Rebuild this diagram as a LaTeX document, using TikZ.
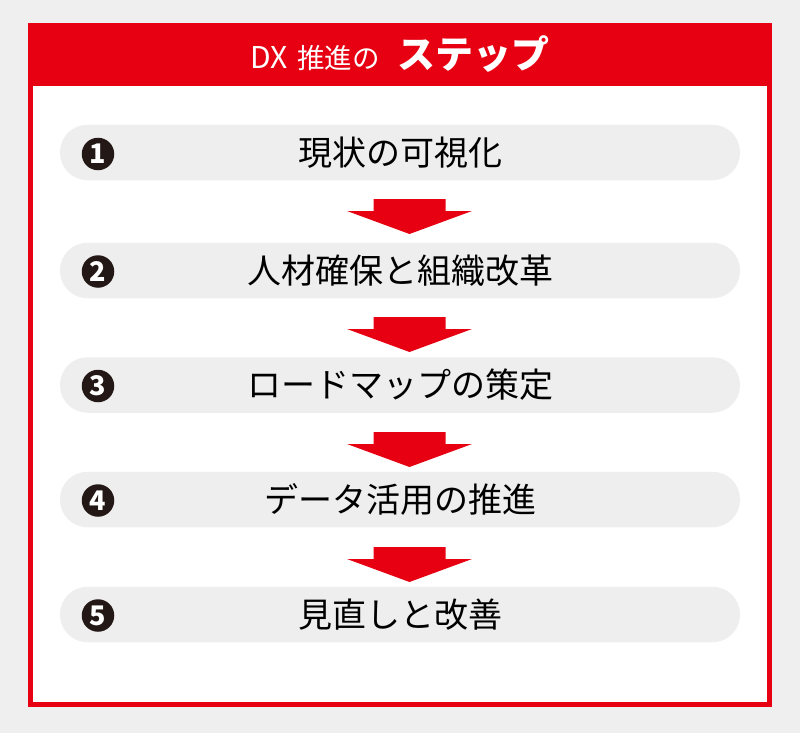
\documentclass[tikz,border=0pt]{standalone}
\usepackage{fontspec}
\setmainfont{Noto Sans CJK JP}
\definecolor{dxred}{HTML}{E60012}
\definecolor{bggray}{HTML}{EFEFEF}
\definecolor{pillgray}{HTML}{EEEEEE}
\definecolor{numblack}{HTML}{231815}
\tikzset{
  pill/.style={fill=pillgray, rounded corners=27.5pt, minimum width=680pt, minimum height=55.5pt, inner sep=0pt, font=\fontsize{34}{34}\selectfont, text=black},
  numdot/.style={circle, fill=numblack, minimum size=32.5pt, inner sep=0pt, text=white, font=\fontsize{27}{27}\selectfont\bfseries},
  stepArrow/.style={fill=dxred}
}
\begin{document}
\begin{tikzpicture}[x=1pt,y=-1pt]
\useasboundingbox (0,0) rectangle (800,733);
\fill[bggray] (0,0) rectangle (800,733);
% frame
\fill[dxred] (28,23) rectangle (772,706.5);
\fill[white] (33,86.5) rectangle (767,702);
% title
\node[anchor=base, text=white, inner sep=0pt] (title) at (400,68.5)
  {{\fontsize{30}{30}\selectfont DX}\hspace{10pt}{\fontsize{27.5}{27.5}\selectfont 推進の}\hspace{18pt}{\fontsize{38}{38}\selectfont\bfseries ステップ}};
% steps
\node[pill] (s1) at (400,152.5) {現状の可視化};
\node[pill] (s2) at (400,270.5) {人材確保と組織改革};
\node[pill] (s3) at (400,385) {ロードマップの策定};
\node[pill] (s4) at (400,499.5) {データ活用の推進};
\node[pill] (s5) at (400,614.5) {見直しと改善};
\node[numdot] (n1) at (98,154) {1};
\node[numdot] (n2) at (98,271.5) {2};
\node[numdot] (n3) at (98,386) {3};
\node[numdot] (n4) at (98,500.5) {4};
\node[numdot] (n5) at (98,615.5) {5};
% arrows
\foreach \t/\p in {199/234, 317/352, 432/467, 547/582}{
  \fill[stepArrow] (373.5,\t) -- (445.5,\t) -- (445.5,\t+12) -- (472,\t+12) -- (409.5,\p) -- (347,\t+12) -- (373.5,\t+12) -- cycle;
}
\end{tikzpicture}
\end{document}
